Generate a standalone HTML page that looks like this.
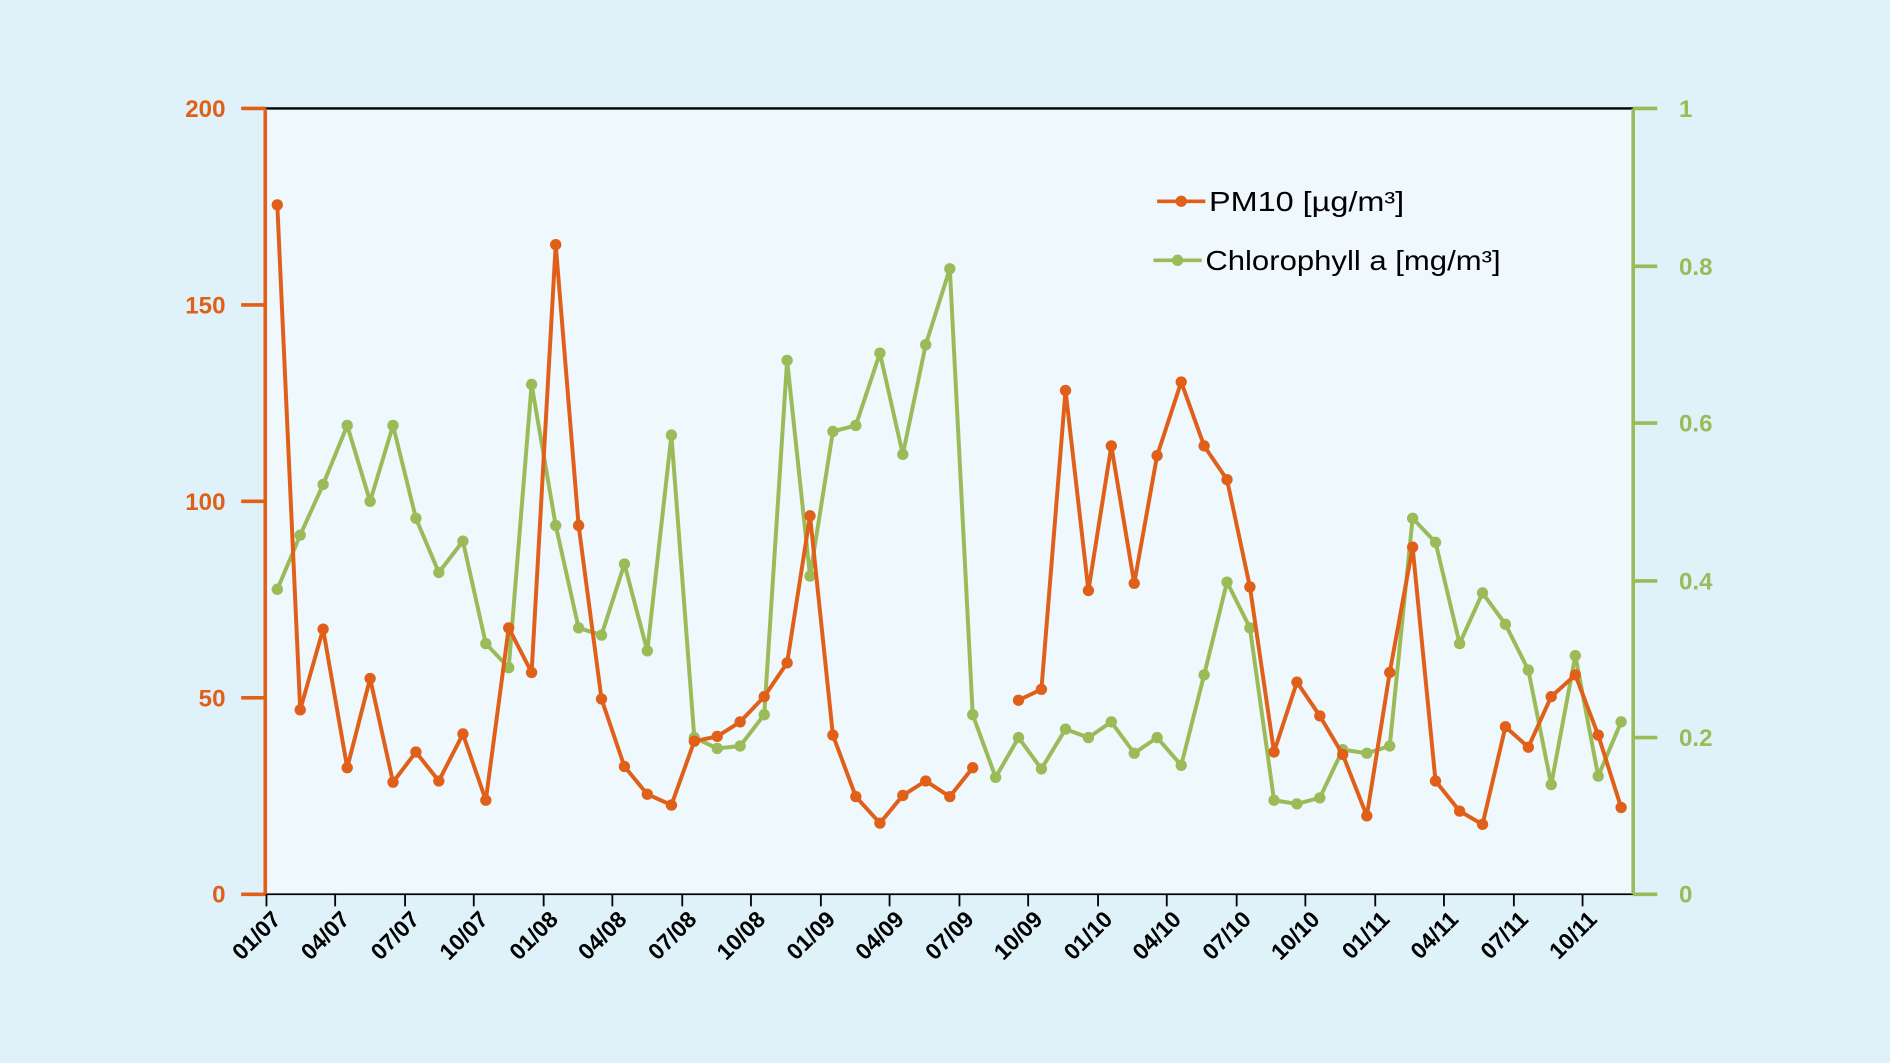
<!DOCTYPE html>
<html><head><meta charset="utf-8"><style>
html,body{margin:0;padding:0;background:#dff2f9;}
svg{display:block;}
text{font-family:"Liberation Sans",sans-serif;}
</style></head><body>
<svg width="1890" height="1063" viewBox="0 0 1568 882" xmlns="http://www.w3.org/2000/svg">
<defs>
<marker id="mo" markerUnits="userSpaceOnUse" markerWidth="12" markerHeight="12" refX="6" refY="6"><circle cx="6" cy="6" r="4.7" fill="#e0601a"/></marker>
<marker id="mg" markerUnits="userSpaceOnUse" markerWidth="12" markerHeight="12" refX="6" refY="6"><circle cx="6" cy="6" r="4.7" fill="#9bbb59"/></marker>
</defs>
<rect width="1568" height="882" fill="#dff2f9"/>
<rect x="220" y="90" width="1135" height="652" fill="#eef8fd"/>
<line x1="220" y1="90" x2="1355" y2="90" stroke="#000" stroke-width="2"/>
<line x1="220" y1="742" x2="1355" y2="742" stroke="#000" stroke-width="1.5"/>
<g stroke="#e0601a" stroke-width="3">
<line x1="220" y1="90" x2="220" y2="742"/>
<line x1="200" y1="90" x2="220" y2="90"/><line x1="200" y1="253" x2="220" y2="253"/><line x1="200" y1="416" x2="220" y2="416"/><line x1="200" y1="579" x2="220" y2="579"/><line x1="200" y1="742" x2="220" y2="742"/>
</g>
<g fill="#e0601a" font-size="20" font-weight="bold" text-anchor="end">
<text x="187" y="97">200</text><text x="187" y="260">150</text><text x="187" y="423">100</text><text x="187" y="586">50</text><text x="187" y="749">0</text>
</g>
<g stroke="#9bbb59" stroke-width="3">
<line x1="1355" y1="90" x2="1355" y2="742"/>
<line x1="1355" y1="90" x2="1375" y2="90"/><line x1="1355" y1="221" x2="1375" y2="221"/><line x1="1355" y1="351" x2="1375" y2="351"/><line x1="1355" y1="482" x2="1375" y2="482"/><line x1="1355" y1="612" x2="1375" y2="612"/><line x1="1355" y1="742" x2="1375" y2="742"/>
</g>
<g fill="#9bbb59" font-size="20" font-weight="bold">
<text x="1393" y="97">1</text><text x="1393" y="228">0.8</text><text x="1393" y="358">0.6</text><text x="1393" y="489">0.4</text><text x="1393" y="619">0.2</text><text x="1393" y="749">0</text>
</g>
<g font-size="19" font-weight="bold" fill="#000" text-anchor="end">
<g transform="translate(234,764) rotate(-45)"><text>01/07</text></g>
<g transform="translate(291,764) rotate(-45)"><text>04/07</text></g>
<g transform="translate(349,764) rotate(-45)"><text>07/07</text></g>
<g transform="translate(406,764) rotate(-45)"><text>10/07</text></g>
<g transform="translate(464,764) rotate(-45)"><text>01/08</text></g>
<g transform="translate(521,764) rotate(-45)"><text>04/08</text></g>
<g transform="translate(579,764) rotate(-45)"><text>07/08</text></g>
<g transform="translate(636,764) rotate(-45)"><text>10/08</text></g>
<g transform="translate(694,764) rotate(-45)"><text>01/09</text></g>
<g transform="translate(751,764) rotate(-45)"><text>04/09</text></g>
<g transform="translate(809,764) rotate(-45)"><text>07/09</text></g>
<g transform="translate(866,764) rotate(-45)"><text>10/09</text></g>
<g transform="translate(924,764) rotate(-45)"><text>01/10</text></g>
<g transform="translate(981,764) rotate(-45)"><text>04/10</text></g>
<g transform="translate(1039,764) rotate(-45)"><text>07/10</text></g>
<g transform="translate(1096,764) rotate(-45)"><text>10/10</text></g>
<g transform="translate(1154,764) rotate(-45)"><text>01/11</text></g>
<g transform="translate(1211,764) rotate(-45)"><text>04/11</text></g>
<g transform="translate(1269,764) rotate(-45)"><text>07/11</text></g>
<g transform="translate(1326,764) rotate(-45)"><text>10/11</text></g>
</g>
<g stroke="#000" stroke-width="1.5">
<line x1="221" y1="742" x2="221" y2="752"/><line x1="278" y1="742" x2="278" y2="752"/><line x1="336" y1="742" x2="336" y2="752"/><line x1="393" y1="742" x2="393" y2="752"/><line x1="451" y1="742" x2="451" y2="752"/><line x1="508" y1="742" x2="508" y2="752"/><line x1="566" y1="742" x2="566" y2="752"/><line x1="623" y1="742" x2="623" y2="752"/><line x1="681" y1="742" x2="681" y2="752"/><line x1="738" y1="742" x2="738" y2="752"/><line x1="796" y1="742" x2="796" y2="752"/><line x1="853" y1="742" x2="853" y2="752"/><line x1="911" y1="742" x2="911" y2="752"/><line x1="968" y1="742" x2="968" y2="752"/><line x1="1026" y1="742" x2="1026" y2="752"/><line x1="1083" y1="742" x2="1083" y2="752"/><line x1="1141" y1="742" x2="1141" y2="752"/><line x1="1198" y1="742" x2="1198" y2="752"/><line x1="1256" y1="742" x2="1256" y2="752"/><line x1="1313" y1="742" x2="1313" y2="752"/>
</g>
<polyline fill="none" stroke="#9bbb59" stroke-width="3.3" stroke-linejoin="round" marker-start="url(#mg)" marker-mid="url(#mg)" marker-end="url(#mg)" points="230,489 249,444 268,402 288,353 307,416 326,353 345,430 364,475 384,449 403,534 422,554 441,319 461,436 480,521 499,527 518,468 537,540 557,361 576,612 595,621 614,619 634,593 653,299 672,478 691,358 710,353 730,293 749,377 768,286 788,223 807,593 826,645 845,612 864,638 884,605 903,612 922,599 941,625 960,612 980,635 999,560 1018,483 1037,521 1057,664 1076,667 1095,662 1114,622 1134,625 1153,619 1172,430 1191,450 1211,534 1230,492 1249,518 1268,556 1287,651 1307,544 1326,644 1345,599"/>
<polyline fill="none" stroke="#e0601a" stroke-width="3.3" stroke-linejoin="round" marker-start="url(#mo)" marker-mid="url(#mo)" marker-end="url(#mo)" points="230,170 249,589 268,522 288,637 307,563 326,649 345,624 364,648 384,609 403,664 422,521 441,558 461,203 480,436 499,580 518,636 537,659 557,668 576,615 595,611 614,599 634,578 653,550 672,428 691,610 710,661 730,683 749,660 768,648 788,661 807,637"/>
<polyline fill="none" stroke="#e0601a" stroke-width="3.3" stroke-linejoin="round" marker-start="url(#mo)" marker-mid="url(#mo)" marker-end="url(#mo)" points="845,581 864,572 884,324 903,490 922,370 941,484 960,378 980,317 999,370 1018,398 1037,487 1057,624 1076,566 1095,594 1114,626 1134,677 1153,558 1172,454 1191,648 1211,673 1230,684 1249,603 1268,620 1287,578 1307,560 1326,610 1345,670"/>
<line x1="960" y1="167" x2="1000" y2="167" stroke="#e0601a" stroke-width="3"/><circle cx="980" cy="167" r="4.7" fill="#e0601a"/>
<text x="1003" y="175" font-size="23" fill="#000" textLength="162" lengthAdjust="spacingAndGlyphs">PM10  [µg/m³]</text>
<line x1="957" y1="216" x2="997" y2="216" stroke="#9bbb59" stroke-width="3"/><circle cx="977" cy="216" r="4.7" fill="#9bbb59"/>
<text x="1000" y="224" font-size="23" fill="#000" textLength="245" lengthAdjust="spacingAndGlyphs">Chlorophyll a [mg/m³]</text>
</svg>
</body></html>
